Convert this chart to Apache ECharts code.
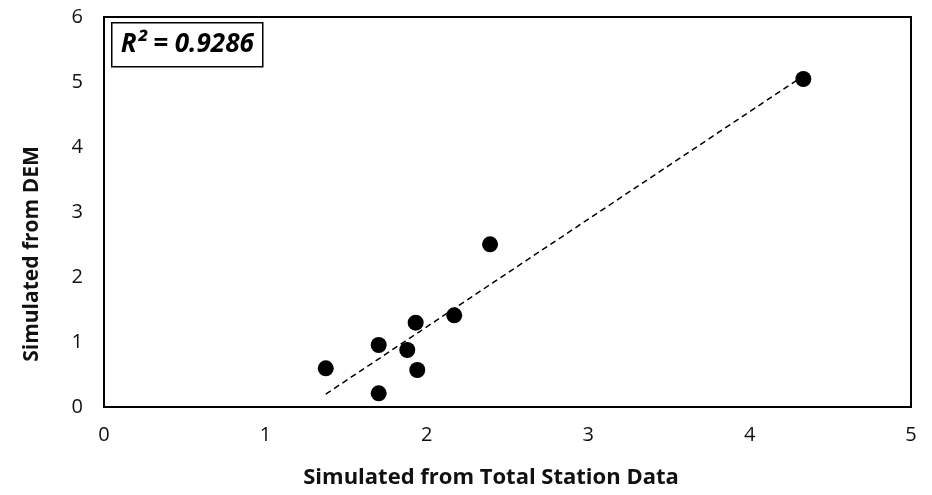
<!DOCTYPE html>
<html>
<head>
<meta charset="utf-8">
<script src="https://cdn.jsdelivr.net/npm/echarts@6/dist/echarts.min.js"></script>
<style>
html, body { margin: 0; padding: 0; background: #fff; }
#chart { width: 932px; height: 495px; }
</style>
</head>
<body>
<div id="chart"></div>
<script>
// values
var totalStation = [1.374, 1.702, 1.702, 1.879, 1.931, 1.941, 2.170, 2.392, 4.333];
var demValues = [0.595, 0.954, 0.211, 0.877, 1.297, 0.569, 1.411, 2.503, 5.046];
var rSquaredLabel = 'R² = 0.9286';
var xTitle = 'Simulated from Total Station Data';
var yTitle = 'Simulated from DEM';

var points = [];
for (var i = 0; i < totalStation.length; i++) {
    points.push([totalStation[i], demValues[i]]);
}

/* least squares trendline, from min x to max x */
function linearFit(xs, ys) {
    var n = xs.length, sx = 0, sy = 0, sxx = 0, sxy = 0;
    for (var i = 0; i < n; i++) {
        sx += xs[i]; sy += ys[i];
        sxx += xs[i] * xs[i]; sxy += xs[i] * ys[i];
    }
    var slope = (n * sxy - sx * sy) / (n * sxx - sx * sx);
    var intercept = (sy - slope * sx) / n;
    return { slope: slope, intercept: intercept };
}
var fit = linearFit(totalStation, demValues);
var xMin = Math.min.apply(null, totalStation);
var xMax = Math.max.apply(null, totalStation);
var trend = [
    [xMin, fit.slope * xMin + fit.intercept],
    [xMax, fit.slope * xMax + fit.intercept]
];

var myChart = echarts.init(document.getElementById('chart'));
var labelFont = '"Open Sans", Lato, sans-serif';
var textColor = '#111';

var option = {
    animation: false,
    grid: {
        left: 104,
        right: 21,
        top: 17,
        bottom: 88,
        show: true,
        borderColor: '#000',
        borderWidth: 2,
        backgroundColor: '#fff'
    },
    xAxis: {
        type: 'value',
        min: 0,
        max: 5,
        interval: 1,
        axisLine: { show: false },
        axisTick: { show: false },
        splitLine: { show: false },
        axisLabel: { fontFamily: labelFont, fontSize: 20, color: textColor, margin: 18 }
    },
    yAxis: {
        type: 'value',
        min: 0,
        max: 6,
        interval: 1,
        axisLine: { show: false },
        axisTick: { show: false },
        splitLine: { show: false },
        axisLabel: { fontFamily: labelFont, fontSize: 20, color: textColor, margin: 21 }
    },
    graphic: [
        {
            type: 'text',
            x: 491,
            y: 478,
            style: {
                text: xTitle,
                fontFamily: labelFont,
                fontSize: 22,
                fontWeight: 'bold',
                fill: textColor,
                align: 'center',
                verticalAlign: 'middle'
            }
        },
        {
            type: 'text',
            x: 32,
            y: 254,
            rotation: Math.PI / 2,
            style: {
                text: yTitle,
                fontFamily: labelFont,
                fontSize: 21,
                fontWeight: 'bold',
                fill: textColor,
                align: 'center',
                verticalAlign: 'middle'
            }
        },
        {
            type: 'group',
            left: 111,
            top: 22,
            children: [
                {
                    type: 'rect',
                    shape: { x: 0, y: 0, width: 151, height: 44 },
                    style: { fill: '#fff', stroke: '#000', lineWidth: 1.5 }
                },
                {
                    type: 'text',
                    x: 75.5,
                    y: 22,
                    style: {
                        text: rSquaredLabel,
                        fontFamily: labelFont,
                        fontSize: 26,
                        fontWeight: 'bold',
                        fontStyle: 'italic',
                        fill: '#000',
                        align: 'center',
                        verticalAlign: 'middle'
                    }
                }
            ]
        }
    ],
    series: [
        {
            name: 'trend',
            type: 'line',
            data: trend,
            symbol: 'none',
            silent: true,
            lineStyle: { color: '#000', width: 1.5, type: [6, 4] },
            z: 1
        },
        {
            name: 'points',
            type: 'scatter',
            data: points,
            symbol: 'circle',
            symbolSize: 16,
            itemStyle: { color: '#000', opacity: 1 },
            z: 2
        }
    ]
};

myChart.setOption(option);
</script>
</body>
</html>
